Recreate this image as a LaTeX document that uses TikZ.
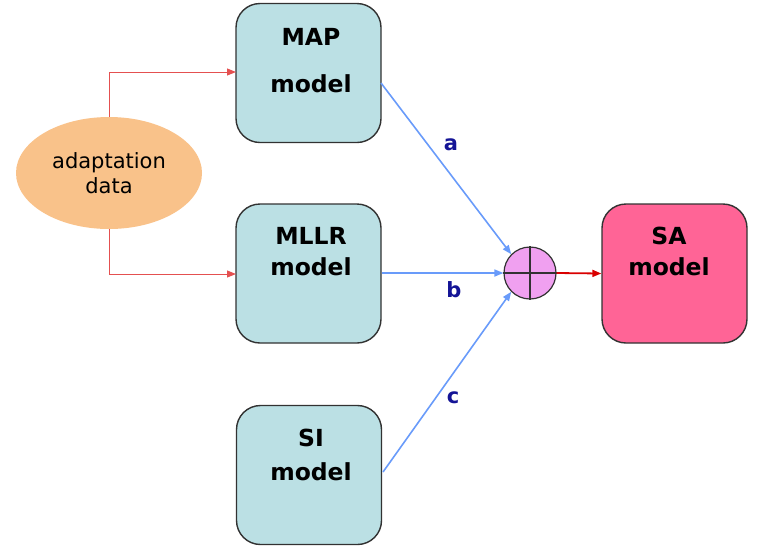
\documentclass[tikz,border=0pt]{standalone}
\usepackage{fontspec}
\setmainfont{DejaVu Sans}
\usetikzlibrary{arrows.meta,shapes.geometric}
\definecolor{boxfill}{RGB}{187,224,228}
\definecolor{safill}{RGB}{255,100,150}
\definecolor{sumfill}{RGB}{240,160,240}
\definecolor{ellfill}{RGB}{249,194,138}
\definecolor{bluearr}{RGB}{105,155,250}
\definecolor{redarr}{RGB}{228,80,80}
\definecolor{navy}{RGB}{20,20,150}
\definecolor{edge}{RGB}{50,50,50}
\tikzset{
  modelbox/.style={draw=edge, line width=1.4pt, rounded corners=24pt, minimum width=145pt, minimum height=139pt, inner sep=0pt},
  boxtext/.style={font=\fontsize{23.5}{26}\selectfont\bfseries, inner sep=0pt, text=black},
  bluelink/.style={draw=bluearr, line width=1.6pt, -{Triangle[length=9pt,width=7pt]}},
  redlink/.style={draw=redarr, line width=1pt, -{Triangle[length=9pt,width=7pt]}},
  weight/.style={font=\fontsize{21}{24}\selectfont\bfseries, text=navy, inner sep=0pt}
}
\begin{document}
\begin{tikzpicture}[x=1pt,y=-1pt]
\useasboundingbox (0,0) rectangle (762,550);
% boxes
\node[modelbox, fill=boxfill] (map) at (308.5,73) {};
\node[modelbox, fill=boxfill] (mllr) at (308.5,273.5) {};
\node[modelbox, fill=boxfill] (si) at (309,475) {};
\node[modelbox, fill=safill] (sa) at (674.5,273.5) {};
% box texts
\node[boxtext] (maptitle) at (311,37) {MAP};
\node[boxtext] (mapmodel) at (311,84) {model};
\node[boxtext] (mllrtitle) at (311,236) {MLLR};
\node[boxtext] (mllrmodel) at (311,267) {model};
\node[boxtext] (sititle) at (311,438) {SI};
\node[boxtext] (simodel) at (311,472) {model};
\node[boxtext] (satitle) at (669,236) {SA};
\node[boxtext] (samodel) at (669,267) {model};
% ellipse
\node[ellipse, fill=ellfill, minimum width=186pt, minimum height=112pt, inner sep=0pt, align=center,
      font=\fontsize{21}{25}\selectfont, text=black] (data) at (109,173) {adaptation\\data};
% sum circle
\node[circle, draw=edge, line width=1.2pt, fill=sumfill, minimum size=52pt, inner sep=0pt] (sum) at (530,273) {};
\draw[edge, line width=1.2pt] (sum.north) -- (sum.south) (sum.west) -- (sum.east);
% red connectors
\coordinate (mapin) at (236,72);
\coordinate (mllrin) at (236,274);
\draw[redlink] (data.north) |- (mapin);
\draw[redlink] (data.south) |- (mllrin);
% blue links
\coordinate (mapout) at (381,83);
\coordinate (siout) at (383,472);
\draw[bluelink] (mapout) -- (sum.north west);
\draw[bluelink] (mllr.east |- sum.west) -- (sum.west);
\draw[bluelink] (siout) -- (sum.south west);
% weights
\node[weight] (wa) at (451,145) {a};
\node[weight] (wb) at (454,290) {b};
\node[weight] (wc) at (453,398) {c};
% output
\draw[draw=red!85!black, line width=1.8pt, -{Triangle[length=9pt,width=7pt]}] (sum.east) -- (sa.west);
\end{tikzpicture}
\end{document}
